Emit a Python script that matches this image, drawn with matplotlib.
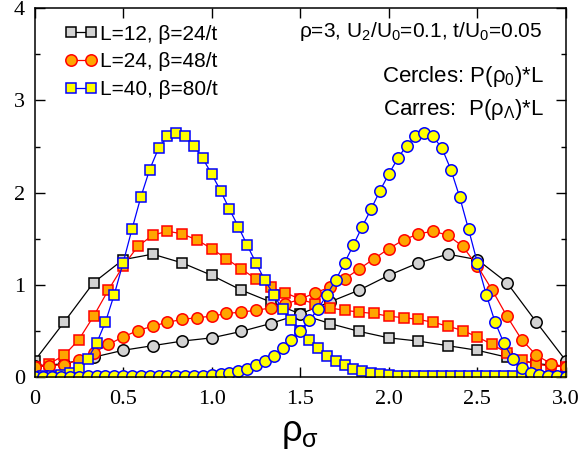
import numpy as np
import matplotlib
matplotlib.use('Agg')
import matplotlib.pyplot as plt
from matplotlib.ticker import MultipleLocator
from matplotlib.lines import Line2D

plt.rcParams['mathtext.fontset'] = 'custom'
plt.rcParams['mathtext.rm'] = 'Liberation Sans'
plt.rcParams['mathtext.it'] = 'Liberation Sans:italic'
plt.rcParams['mathtext.bf'] = 'Liberation Sans:bold'
plt.rcParams['font.family'] = ['Liberation Sans', 'DejaVu Sans']

# ---- data (P * L), squares = P(rho_Lambda)*L, circles = P(rho_0)*L ----
rho_12 = np.linspace(0, 3, 19)
sq_12 = [0.17, 0.59, 1.02, 1.27, 1.33, 1.235, 1.10, 0.94, 0.81, 0.68,
         0.576, 0.49, 0.42, 0.385, 0.335, 0.285, 0.21, 0.14, 0.11]
ci_12 = [0.11, 0.14, 0.21, 0.285, 0.335, 0.385, 0.42, 0.49, 0.576, 0.68,
         0.81, 0.94, 1.10, 1.235, 1.33, 1.27, 1.02, 0.59, 0.17]

rho_24 = np.linspace(0, 3, 37)
sq_24 = [0.105, 0.14, 0.23, 0.40, 0.655, 0.94, 1.20, 1.415, 1.535, 1.58,
         1.55, 1.485, 1.39, 1.28, 1.17, 1.06, 0.97, 0.91, 0.84, 0.79,
         0.745, 0.72, 0.70, 0.685, 0.655, 0.64, 0.62, 0.59, 0.547, 0.50,
         0.43, 0.348, 0.257, 0.18, 0.13, 0.115, 0.105]
ci_24 = [0.105, 0.115, 0.13, 0.18, 0.257, 0.348, 0.43, 0.50, 0.547, 0.59,
         0.62, 0.64, 0.655, 0.685, 0.70, 0.72, 0.745, 0.79, 0.84, 0.91,
         0.97, 1.06, 1.17, 1.28, 1.39, 1.485, 1.55, 1.58, 1.535, 1.415,
         1.20, 0.94, 0.655, 0.40, 0.23, 0.14, 0.105]

rho_40 = np.linspace(0, 3, 61)
sq_40 = [0.0, 0.002, 0.004, 0.012, 0.035, 0.094, 0.19, 0.36, 0.59, 0.89,
         1.235, 1.60, 1.95, 2.25, 2.48, 2.61, 2.65, 2.61, 2.51, 2.37,
         2.20, 2.02, 1.82, 1.63, 1.43, 1.235, 1.047, 0.89, 0.73, 0.61,
         0.50, 0.40, 0.31, 0.228, 0.174, 0.12, 0.083, 0.058, 0.033, 0.022,
         0.015, 0.011, 0.008, 0.006, 0.005, 0.004, 0.003, 0.003, 0.002, 0.002,
         0.002, 0.001, 0.001, 0.001, 0.001, 0.0, 0.0, 0.0, 0.0, 0.0, 0.0]
ci_40 = [0.0, 0.0, 0.0, 0.0, 0.0, 0.0, 0.001, 0.001, 0.001, 0.001,
         0.002, 0.002, 0.002, 0.003, 0.003, 0.004, 0.005, 0.006, 0.008, 0.011,
         0.015, 0.022, 0.033, 0.058, 0.083, 0.12, 0.174, 0.228, 0.31, 0.40,
         0.50, 0.61, 0.73, 0.89, 1.047, 1.235, 1.43, 1.63, 1.82, 2.02,
         2.20, 2.37, 2.51, 2.61, 2.65, 2.61, 2.48, 2.25, 1.95, 1.60,
         1.235, 0.89, 0.59, 0.36, 0.19, 0.094, 0.035, 0.012, 0.004, 0.002, 0.0]

labels = ['L=12, β=24/t', 'L=24, β=48/t', 'L=40, β=80/t']

fig = plt.figure(figsize=(5.82, 4.59), dpi=100)
ax = fig.add_axes([0.0593, 0.1797, 0.9132, 0.8018])

st12 = dict(color='black', mfc='#d3d3d3', mec='black')
st24 = dict(color='red', mfc='#ffa500', mec='red')
st40 = dict(color='blue', mfc='#ffff00', mec='blue')
common = dict(lw=0.9, mew=1.1)

ax.plot(rho_12, sq_12, marker='s', ms=7.4, **st12, **common)
ax.plot(rho_12, ci_12, marker='o', ms=8.2, **st12, **common)
ax.plot(rho_24, sq_24, marker='s', ms=7.4, **st24, **common)
ax.plot(rho_24, ci_24, marker='o', ms=8.2, **st24, **common)
ax.plot(rho_40, sq_40, marker='s', ms=7.4, **st40, **common)
ax.plot(rho_40, ci_40, marker='o', ms=8.2, **st40, **common)

handles = [Line2D([], [], marker='s', ms=7.4, **st12, **common),
           Line2D([], [], marker='o', ms=8.2, **st24, **common),
           Line2D([], [], marker='s', ms=7.4, **st40, **common)]
fig.legend(handles, labels, loc='upper left', bbox_to_anchor=(0.1113, 0.946),
           frameon=False, numpoints=2, handlelength=1.56, handletextpad=0.14,
           labelspacing=0.41, borderpad=0, borderaxespad=0, fontsize=15)

ax.set_xlim(0, 3)
ax.set_ylim(0, 4)
ax.yaxis.set_minor_locator(MultipleLocator(0.5))
ax.set_xticks([0, 0.5, 1.0, 1.5, 2.0, 2.5, 3.0])
ax.set_xticklabels(['0', '0.5', '1.0', '1.5', '2.0', '2.5', '3.0'])
ax.set_yticks([0, 1, 2, 3, 4])
ax.set_yticklabels(['0', '1', '2', '3', '4'])
ax.tick_params(which='both', direction='in', top=True, right=True, width=1.0)
ax.tick_params(which='major', length=7)
ax.tick_params(which='minor', length=3.6)
ax.tick_params(axis='x', which='major', pad=10)
ax.tick_params(axis='y', which='major', pad=7)
for lab in ax.get_xticklabels() + ax.get_yticklabels():
    lab.set_fontfamily('Liberation Serif')
    lab.set_fontsize(16)
for sp in ax.spines.values():
    sp.set_linewidth(1.1)

ax.set_xlabel('ρ$_\\mathrm{σ}$', fontsize=26, labelpad=5)

fig.text(0.9313, 0.9187, 'ρ=3, U$_\\mathrm{2}$/U$_\\mathrm{0}$=0.1, t/U$_\\mathrm{0}$=0.05',
         ha='right', va='baseline', fontsize=15)
fig.text(0.9347, 0.8214, 'Cercles: P(ρ$_\\mathrm{0}$)*L', ha='right', va='baseline', fontsize=16)
fig.text(0.9347, 0.7495, 'Carres:  P(ρ$_\\mathrm{Λ}$)*L', ha='right', va='baseline', fontsize=16)

fig.savefig('out.png', dpi=100)
